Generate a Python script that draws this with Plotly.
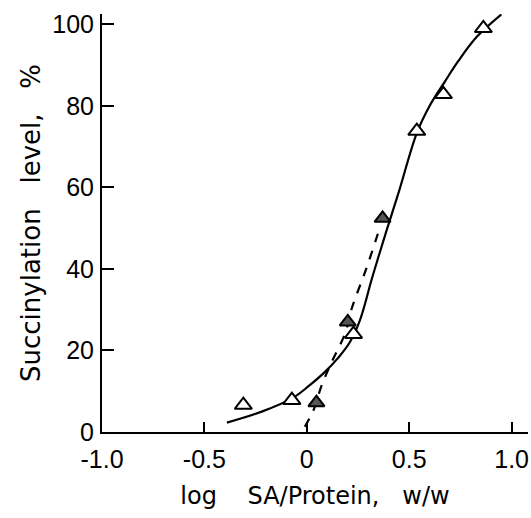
import plotly.graph_objects as go

# Open triangles (solid curve)
open_x = [-0.31, -0.073, 0.228, 0.537, 0.667, 0.862]
open_y = [6.6, 7.8, 24.0, 73.8, 82.8, 99.0]

# Filled triangles (dashed curve)
filled_x = [0.047, 0.200, 0.370]
filled_y = [7.2, 27.0, 52.4]

# Solid fitted curve
solid_x = [-0.39, -0.22, -0.07, 0.01, 0.09, 0.155, 0.21, 0.26, 0.32, 0.39, 0.45, 0.537, 0.6, 0.675, 0.74, 0.83, 0.95]
solid_y = [2.3, 5.0, 8.3, 11.3, 14.8, 18.3, 22.0, 27.5, 38.0, 49.5, 59.0, 73.3, 80.0, 86.0, 91.0, 96.9, 102.4]

# Dashed fitted curve
dash_x = [-0.01, 0.033, 0.073, 0.122, 0.187, 0.22, 0.29, 0.356]
dash_y = [1.3, 5.4, 11.5, 17.2, 24.2, 30.4, 40.0, 50.0]

x_ticks = [-1.0, -0.5, 0, 0.5, 1.0]
x_tick_labels = ["-1.0", "-0.5", "0", "0.5", "1.0"]
y_ticks = [0, 20, 40, 60, 80, 100]

x_title = "log\u00a0\u00a0\u00a0 SA/Protein,\u00a0\u00a0 w/w"
y_title = "Succinylation\u00a0\u00a0 level,\u00a0\u00a0 %"

fig = go.Figure()
fig.add_trace(go.Scatter(x=solid_x, y=solid_y, mode="lines",
                         line=dict(color="black", width=2.2, shape="spline"),
                         showlegend=False, hoverinfo="skip"))
fig.add_trace(go.Scatter(x=dash_x, y=dash_y, mode="lines",
                         line=dict(color="black", width=2.2, shape="spline", dash="dash"),
                         showlegend=False, hoverinfo="skip"))
fig.add_trace(go.Scatter(x=open_x, y=open_y, mode="markers",
                         marker=dict(symbol="triangle-up", size=15, color="white",
                                     line=dict(color="black", width=2)),
                         showlegend=False))
fig.add_trace(go.Scatter(x=filled_x, y=filled_y, mode="markers",
                         marker=dict(symbol="triangle-up", size=14, color="#555555",
                                     line=dict(color="black", width=2)),
                         showlegend=False))

tick_font = "Liberation Sans, Arial, sans-serif"
title_font = "DejaVu Sans, sans-serif"
fig.update_layout(
    width=531, height=518,
    margin=dict(l=102, r=3, t=14, b=86),
    paper_bgcolor="white", plot_bgcolor="white",
    font=dict(family=tick_font, color="black", size=25),
    xaxis=dict(range=[-1.0, 1.08], tickvals=x_ticks, ticktext=x_tick_labels,
               showgrid=False, zeroline=False, showline=True, linecolor="black",
               linewidth=2, ticks="inside", ticklen=10, tickwidth=2, tickcolor="black",
               tickfont=dict(size=25, family=tick_font), ticklabelstandoff=4,
               title=dict(text=x_title, font=dict(size=24, family=title_font), standoff=15)),
    yaxis=dict(range=[0, 102.5], tickvals=y_ticks,
               showgrid=False, zeroline=False, showline=True, linecolor="black",
               linewidth=2, ticks="inside", ticklen=12, tickwidth=2, tickcolor="black",
               tickfont=dict(size=25, family=tick_font), ticklabelstandoff=1,
               title=dict(text=y_title, font=dict(size=26, family=title_font), standoff=4)),
)
fig.write_html("out.html")
